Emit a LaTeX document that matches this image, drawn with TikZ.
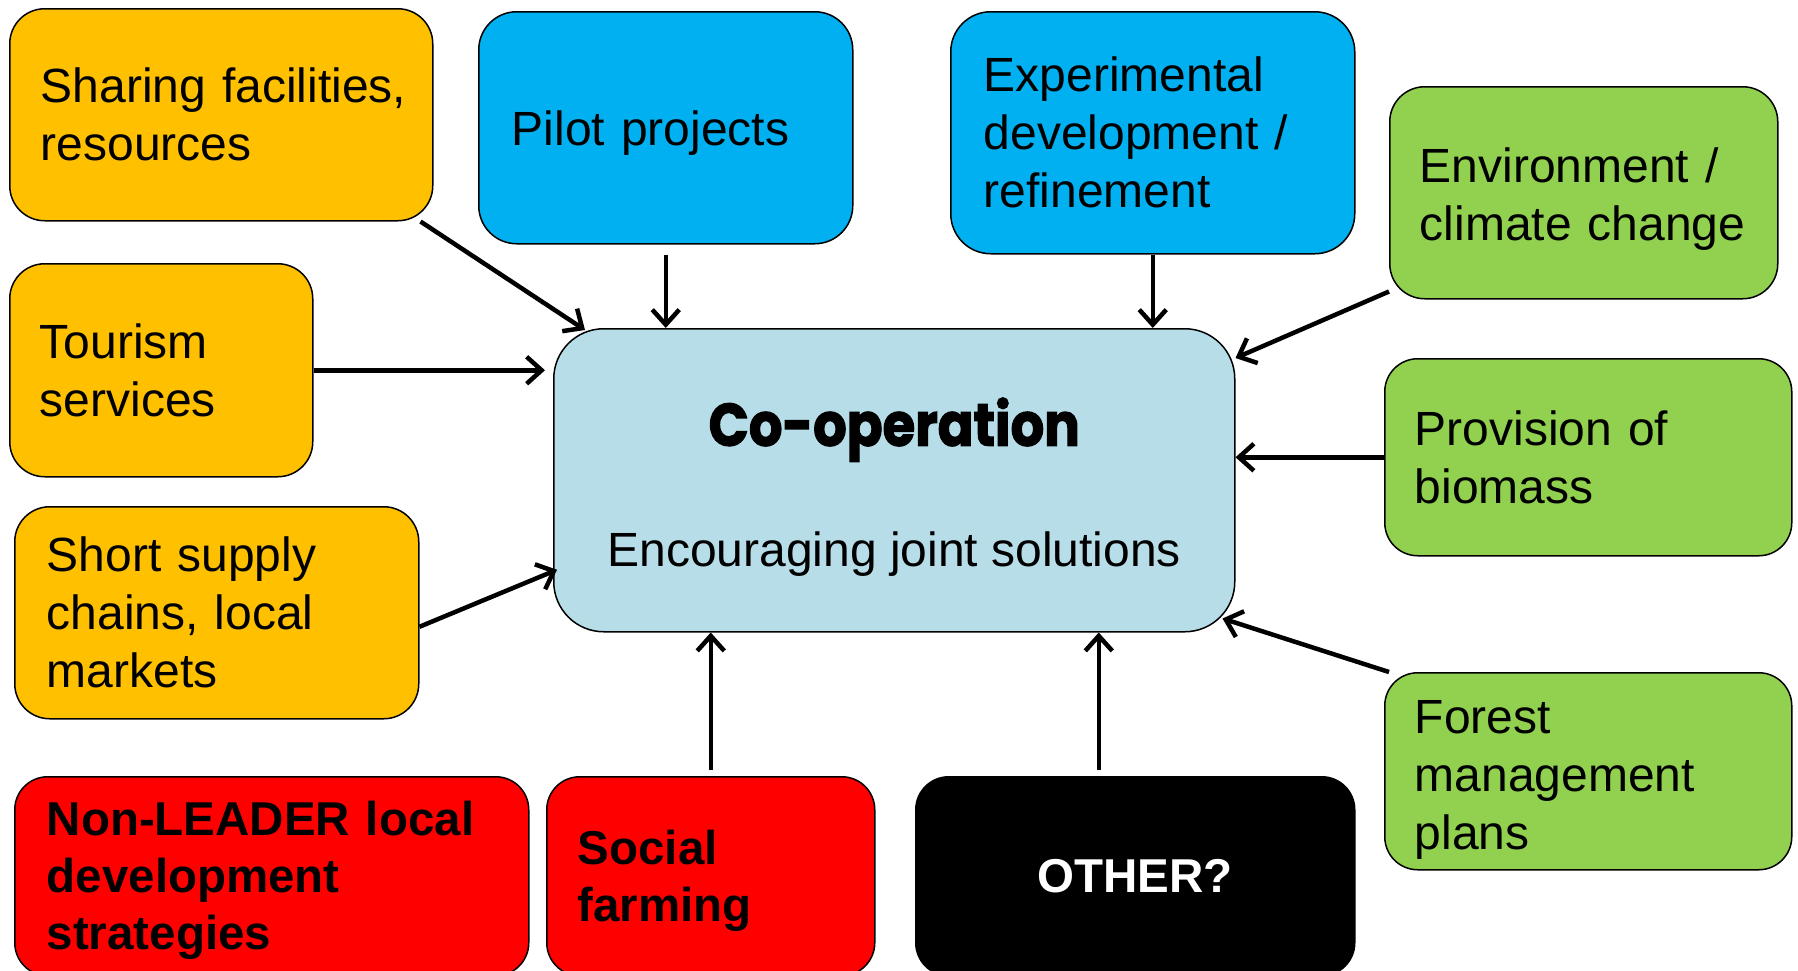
\documentclass[tikz,border=0pt]{standalone}
\usepackage{fontspec}
\setmainfont{Liberation Sans}
\newfontfamily\coopfont[FakeStretch=0.88,BoldFeatures={FakeBold=2}]{Poppins}
\usetikzlibrary{arrows.meta,calc}
\definecolor{orangebox}{HTML}{FFC000}
\definecolor{bluebox}{HTML}{00B0F0}
\definecolor{greenbox}{HTML}{92D050}
\definecolor{redbox}{HTML}{FF0000}
\definecolor{coopbox}{HTML}{B7DEE8}
\newcommand\lift[1]{\rule{0pt}{\dimexpr 35pt+#1\relax}}
\tikzset{
  box/.style={draw=black, line width=1.5pt, rectangle, anchor=north west, align=left, inner ysep=0pt, font=\fontsize{48}{58}\selectfont},
  boldbox/.style={box, font=\fontsize{47.5}{57}\selectfont\bfseries},
  conn/.style={line width=4.5pt, -{Straight Barb[length=15pt,width=27pt]}},
}
\begin{document}
\hyphenpenalty=10000
\exhyphenpenalty=10000
\hbadness=10000
\hfuzz=100pt
\begin{tikzpicture}[x=1pt,y=-1pt]
\useasboundingbox (0,0) rectangle (1798,970);
\fill[white] (0,0) rectangle (1798,970);
\clip (0,0) rectangle (1798,970);

% left orange
\node[box, fill=orangebox, minimum width=423pt, minimum height=212pt, inner xsep=31pt, text width=361pt, rounded corners=35pt] (share) at (9,8) {\mbox{Sharing facilities,}\\resources};
\node[box, fill=orangebox, minimum width=303pt, minimum height=213pt, inner xsep=30pt, text width=243pt, rounded corners=35pt] (tour) at (9,263) {Tourism\\services};
\node[box, fill=orangebox, minimum width=404pt, minimum height=212pt, inner xsep=32pt, text width=340pt, rounded corners=35pt] (short) at (14,506) {Short supply\\chains, local\\markets};

% top blue
\node[box, fill=bluebox, minimum width=374pt, minimum height=232pt, inner xsep=33pt, text width=308pt, rounded corners=38pt] (pilot) at (478,11) {\lift{10pt}Pilot projects};
\node[box, fill=bluebox, minimum width=404pt, minimum height=242pt, inner xsep=33pt, text width=338pt, rounded corners=40pt] (exper) at (950,11) {Experimental\\development /\\refinement};

% right green
\node[box, fill=greenbox, minimum width=388pt, minimum height=212pt, inner xsep=30pt, text width=328pt, rounded corners=35pt] (env) at (1389,86) {\lift{12pt}Environment /\\climate change};
\node[box, fill=greenbox, minimum width=407pt, minimum height=197pt, inner xsep=30pt, text width=347pt, rounded corners=33pt] (prov) at (1384,358) {Provision of\\biomass};
\node[box, fill=greenbox, minimum width=407pt, minimum height=197pt, inner xsep=30pt, text width=347pt, rounded corners=33pt] (forest) at (1384,672) {\lift{16pt}Forest\\management\\plans};

% bottom
\node[boldbox, fill=redbox, minimum width=514pt, minimum height=199pt, inner xsep=32pt, text width=450pt, rounded corners=33pt] (nonl) at (14,776) {\lift{8pt}Non-LEADER local\\development\\strategies};
\node[boldbox, fill=redbox, minimum width=328pt, minimum height=199pt, inner xsep=31pt, text width=266pt, rounded corners=33pt] (social) at (546,776) {\lift{8pt}Social\\farming};
\node[boldbox, fill=black, text=white, align=center, minimum width=439pt, minimum height=199pt, inner xsep=20pt, text width=399pt, rounded corners=33pt] (other) at (915,776) {OTHER?};

% centre
\node[box, fill=coopbox, minimum width=681pt, minimum height=303pt, rounded corners=50pt] (coop) at (553,328) {};
\node[anchor=base, font=\coopfont\bfseries\fontsize{60}{66}\selectfont] (cooptitle) at ([yshift=34.5pt]coop.center) {Co-operation};
\node[anchor=base, font=\fontsize{48}{58}\selectfont] (coopsub) at ([yshift=-86.5pt]coop.center) {Encouraging joint solutions};

% connectors
\coordinate (otherup) at ([xshift=-36.5pt,yshift=6pt]other.north);
\coordinate (socialup) at ([yshift=6pt]social.north);
\draw[conn] ([xshift=-13pt]share.south east) -- ([xshift=32pt,yshift=-2pt]coop.north west);
\draw[conn, shorten <=10pt] (pilot.south) -- (pilot.south |- coop.north);
\draw[conn] (tour.east) -- ([xshift=-8pt]tour.east -| coop.west);
\draw[conn] (exper.south) -- (exper.south |- coop.north);
\draw[conn] ([yshift=8pt]env.south west) -- ([yshift=-30pt]coop.north east);
\draw[conn] (prov.west) -- (prov.west -| coop.east);
\draw[conn] ([xshift=5pt]forest.north west) -- ([xshift=-13pt,yshift=14pt]coop.south east);
\draw[conn] ([yshift=-14pt]short.east) -- ([xshift=4pt,yshift=-89.5pt]coop.west);
\draw[conn] (socialup) -- (socialup |- coop.south);
\draw[conn] (otherup) -- (otherup |- coop.south);
\end{tikzpicture}
\end{document}
